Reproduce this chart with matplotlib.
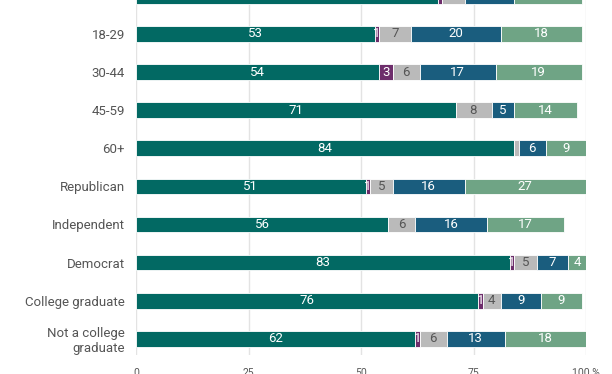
import matplotlib
matplotlib.use("Agg")
import matplotlib.pyplot as plt
import numpy as np

plt.rcParams['font.family'] = ['Roboto', 'DejaVu Sans']

# === data ===
groups = ["Total", "18-29", "30-44", "45-59", "60+", "Republican", "Independent",
          "Democrat", "College graduate", "Not a college\ngraduate"]
seg1 = [67, 53, 54, 71, 84, 51, 56, 83, 76, 62]
seg2 = [1, 1, 3, 0, 0, 1, 0, 1, 1, 1]
seg3 = [5, 7, 6, 8, 1, 5, 6, 5, 4, 6]
seg4 = [11, 20, 17, 5, 6, 16, 16, 7, 9, 13]
seg5 = [15, 18, 19, 14, 9, 27, 17, 4, 9, 18]
ticks = [0, 25, 50, 75, 100]
tick_labels = ["0", "25", "50", "75", "100 %"]

colors = ['#026963', '#6d2d6b', '#bababa', '#1a5d7e', '#6fa485']
text_colors = ['white', 'white', '#555555', 'white', 'white']
hidden = {(4, 2)}  # tiny gray slice for 60+ has no label

fig = plt.figure(figsize=(6.12, 3.74), dpi=100)
ax = fig.add_axes([136/612, 1 - 355/374, 450/612, 355/374])

series = [seg1, seg2, seg3, seg4, seg5]
y = np.arange(len(groups))
left = np.zeros(len(groups))
for k, vals in enumerate(series):
    vals = np.array(vals, dtype=float)
    ax.barh(y, vals, left=left, height=0.41, color=colors[k],
            edgecolor='white', linewidth=0.6, zorder=3)
    for i, v in enumerate(vals):
        if v <= 0 or (i, k) in hidden:
            continue
        ax.text(left[i] + v / 2, y[i], f"{int(v)}", ha='center', va='center',
                color=text_colors[k], fontsize=9.5, zorder=4, clip_on=True)
    left += vals

ax.set_yticks(y)
ax.set_yticklabels(groups, fontsize=9.5, color='#555555')
ax.set_xticks(ticks)
ax.set_xticklabels(tick_labels, fontsize=7.5, color='#555555')
# limits after ticks, set_yticks would widen them again
ax.set_xlim(0, 100)
ax.set_ylim(9.425, 0.108)
ax.tick_params(axis='both', length=0, pad=8)
ax.tick_params(axis='x', pad=9)
ax.grid(axis='x', color='#e3e3e3', linewidth=1, zorder=0)
for s in ax.spines.values():
    s.set_visible(False)

fig.savefig("out.png", dpi=100)
